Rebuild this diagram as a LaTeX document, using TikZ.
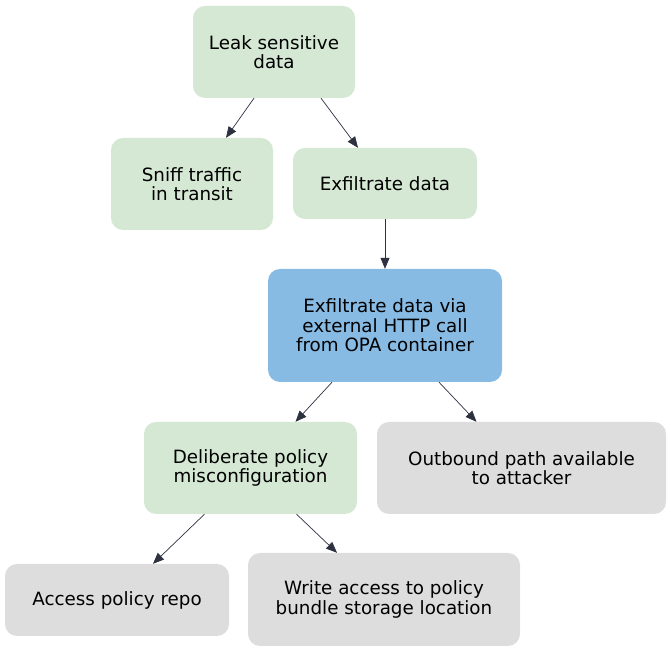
\documentclass[tikz,border=0pt]{standalone}
\usepackage{fontspec}
\setmainfont{DejaVu Sans}
\usepackage{tikz}
\usetikzlibrary{arrows.meta}

\definecolor{leafgreen}{HTML}{D5E8D4}
\definecolor{goalblue}{HTML}{87BBE4}
\definecolor{condgray}{HTML}{DDDDDD}
\definecolor{edgedark}{HTML}{2D3140}

\begin{document}
\begin{tikzpicture} [
    x=1pt, y=1pt,
    every node/.style = {rectangle, rounded corners=12pt, align=center, inner sep=0pt,
        font=\fontsize{18.3}{19.5}\selectfont},
    green/.style = {fill=leafgreen},
    blue/.style = {fill=goalblue},
    gray/.style = {fill=condgray},
    edge/.style = {draw=edgedark, line width=0.7pt, -{Triangle[length=11pt,width=9pt]}}
]
    \useasboundingbox (0,0) rectangle (671,652);

    \node [green, minimum width=162pt, minimum height=92pt] (leak) at (274,600) {Leak sensitive\\data};
    \node [green, minimum width=162pt, minimum height=92pt] (sniff) at (192,468) {Sniff traffic\\in transit};
    \node [green, minimum width=184pt, minimum height=71pt] (exfil) at (385,468.5) {Exfiltrate data};
    \node [blue, minimum width=234pt, minimum height=113pt] (http) at (385,326.5) {Exfiltrate data via\\external HTTP call\\from OPA container};
    \node [green, minimum width=213pt, minimum height=92pt] (delib) at (250.5,184) {Deliberate policy\\misconfiguration};
    \node [gray, minimum width=289pt, minimum height=92pt] (outbound) at (521.5,184) {Outbound path available\\to attacker};
    \node [gray, minimum width=224pt, minimum height=72pt] (repo) at (117,52) {Access policy repo};
    \node [gray, minimum width=272pt, minimum height=93pt] (write) at (384,52.5) {Write access to policy\\bundle storage location};

    \draw [edge] ([xshift=-20pt]leak.south) -- ([xshift=34pt]sniff.north);
    \draw [edge] ([xshift=47pt]leak.south) -- ([xshift=-27pt]exfil.north);
    \draw [edge] (exfil.south) -- (http.north);
    \draw [edge] ([xshift=-53pt]http.south) -- ([xshift=45pt]delib.north);
    \draw [edge] ([xshift=54pt]http.south) -- ([xshift=-45pt]outbound.north);
    \draw [edge] ([xshift=-46pt]delib.south) -- ([xshift=36pt]repo.north);
    \draw [edge] ([xshift=46pt]delib.south) -- ([xshift=-47pt]write.north);
\end{tikzpicture}
\end{document}
